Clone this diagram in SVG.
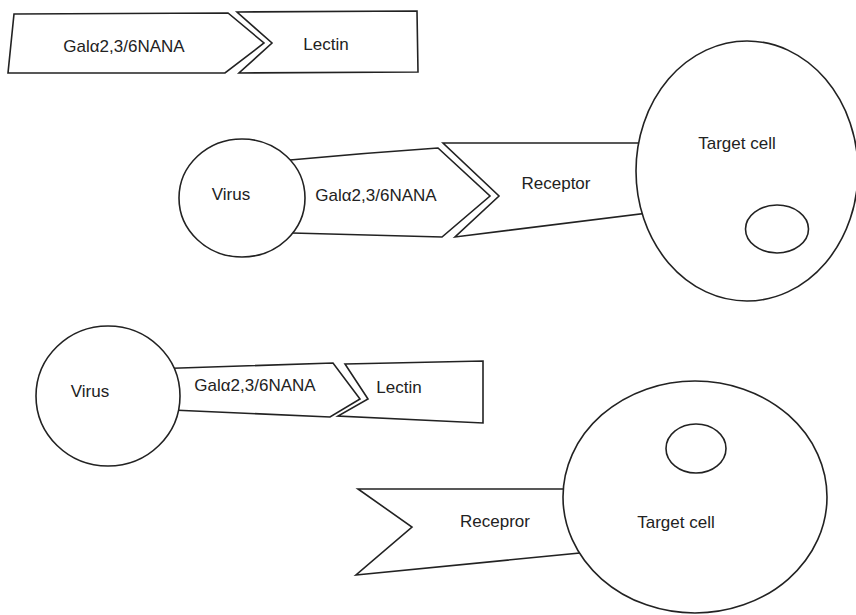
<svg xmlns="http://www.w3.org/2000/svg" width="856" height="615" viewBox="0 0 856 615">
<style>
.s{fill:#fff;stroke:#222;stroke-width:1.6;stroke-linejoin:miter}
.t{font-family:"Liberation Sans",Arial,sans-serif;font-size:17px;fill:#222;text-anchor:middle}
</style>
<rect width="856" height="615" fill="#fff"/>
<g id="connectors"></g>
<g id="top-gal">
<polygon class="s" points="14,14 228,13 264,43 225,73 8,73"/>
<text class="t" x="124" y="52">Galα2,3/6NANA</text>
</g>
<g id="top-lectin">
<polygon class="s" points="237,12 417,11 418,72 239,73 272,43"/>
<text class="t" x="326" y="50">Lectin</text>
</g>
<g id="mid-receptor">
<polygon class="s" points="443,143 680,143 680,209 455,237 499,196"/>
<text class="t" x="556" y="189">Receptor</text>
</g>
<g id="mid-gal">
<path class="s" d="M260,160 L290,160 Q365,153 438,148 L490,196 L442,237 L292,233 L260,233 Z"/>
<text class="t" x="376" y="201">Galα2,3/6NANA</text>
</g>
<g id="mid-virus">
<ellipse class="s" cx="242" cy="198" rx="63" ry="59"/>
<text class="t" x="231" y="200">Virus</text>
</g>
<g id="mid-target">
<ellipse class="s" cx="747" cy="171" rx="111" ry="130"/>
<text class="t" x="737" y="149">Target cell</text>
<ellipse class="s" cx="777" cy="229" rx="31.5" ry="24"/>
</g>
<g id="bot-gal">
<polygon class="s" points="150,369 333,363 360,399 330,417 150,409"/>
<text class="t" x="255" y="391">Galα2,3/6NANA</text>
</g>
<g id="bot-lectin">
<polygon class="s" points="345,364 483,361 483,423 338,416 368,399"/>
<text class="t" x="399" y="393">Lectin</text>
</g>
<g id="bot-virus">
<ellipse class="s" cx="108" cy="396" rx="72" ry="70"/>
<text class="t" x="90" y="397">Virus</text>
</g>
<g id="bot-receptor">
<polygon class="s" points="358,489 600,489 600,551 356,575 412,527"/>
<text class="t" x="495" y="527">Recepror</text>
</g>
<g id="bot-target">
<ellipse class="s" cx="695" cy="497" rx="132" ry="116"/>
<text class="t" x="676" y="528">Target cell</text>
<ellipse class="s" cx="696" cy="448.5" rx="30" ry="24.5"/>
</g>
</svg>
